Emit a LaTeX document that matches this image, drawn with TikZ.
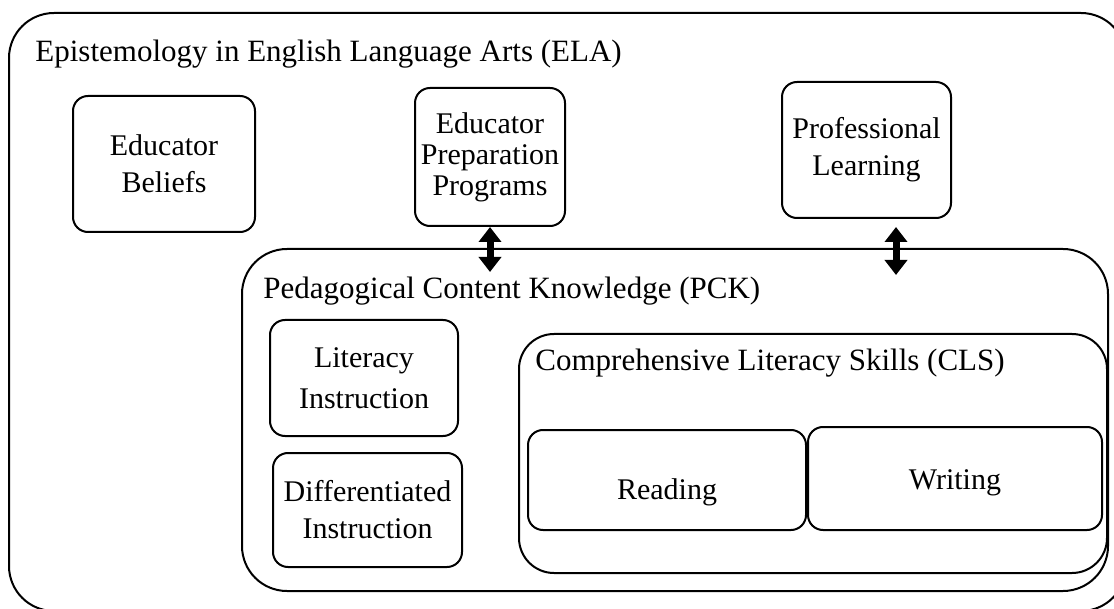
\documentclass[tikz,border=0pt]{standalone}
\usepackage{fontspec}
\setmainfont{Liberation Serif}
\usetikzlibrary{arrows.meta}

\newcommand{\lowered}[2]{\raisebox{-#1}[\height][\depth]{#2}}

\tikzset{
  frame/.style={draw,line width=1pt,inner sep=0pt},
  box/.style={draw,line width=1pt,rounded corners=7.5pt,align=center,inner sep=0pt},
  title/.style={anchor=base west,inner sep=0pt,font=\fontsize{15.5}{19}\selectfont},
  twoway/.style={line width=3.5pt,{Triangle[width=11pt,length=7.5pt]}-{Triangle[width=11pt,length=7.5pt]}},
}

\begin{document}
\begin{tikzpicture}[x=0.5pt,y=-0.5pt,font=\fontsize{15}{18.5}\selectfont]
        \useasboundingbox (0,0) rectangle (1114,609);
        \clip (0,0) rectangle (1114,609);

        % Outer frame (ELA)
        \node[frame,rounded corners=22.5pt,minimum width=558.5pt,minimum height=299pt] (ela) at (567.5,312) {};
        \node[title] (ela-title) at (35,62) {Epistemology in English Language Arts (ELA)};

        % Top row
        \node[box,minimum width=91pt,minimum height=68pt] (beliefs) at (164,164) {Educator\\Beliefs};
        \node[box,minimum width=75pt,minimum height=69pt,font=\fontsize{15}{15.5}\selectfont] (prep) at (490,157) {Educator\\Preparation\\Programs};
        \node[box,minimum width=84.5pt,minimum height=68pt] (proflearn) at (866.5,150) {Professional\\Learning};

        % PCK frame
        \node[frame,rounded corners=22.5pt,minimum width=433pt,minimum height=171pt] (pck) at (675,420) {};
        \node[title] (pck-title) at (263,299) {Pedagogical Content Knowledge (PCK)};
        \node[box,minimum width=94pt,minimum height=58pt,font=\fontsize{15}{20.5}\selectfont] (literacy) at (364,378) {Literacy\\Instruction};
        \node[box,minimum width=94.5pt,minimum height=57pt] (diff) at (367.5,510) {Differentiated\\Instruction};

        % CLS frame
        \node[frame,rounded corners=17.5pt,minimum width=294pt,minimum height=119.5pt] (cls) at (813,453.5) {};
        \node[title] (cls-title) at (535,371) {Comprehensive Literacy Skills (CLS)};
        \node[box,minimum width=139pt,minimum height=50pt] (reading) at (667,480) {\lowered{6pt}{Reading}};
        \node[box,minimum width=147pt,minimum height=51.5pt] (writing) at (955,478.5) {\lowered{2pt}{Writing}};

        % Two-way links
        \coordinate (prep-end) at (490,272);
        \coordinate (pl-top) at (896,227);
        \coordinate (pl-end) at (896,275);
        \draw[twoway] (prep.south) -- (prep-end);
        \draw[twoway] (pl-top) -- (pl-end);
      \end{tikzpicture}
\end{document}
